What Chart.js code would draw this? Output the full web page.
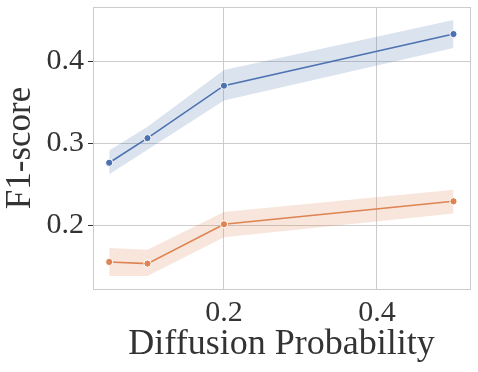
<!DOCTYPE html>
<html>
<head>
<meta charset="utf-8">
<script src="https://cdn.jsdelivr.net/npm/chart.js@4"></script>
<style>
  html, body { margin: 0; padding: 0; background: #fff; }
  #wrap { width: 478px; height: 372px; }
</style>
</head>
<body>
<div id="wrap"><canvas id="f1Chart" width="478" height="372"></canvas></div>
<script>
var probs = [0.05, 0.1, 0.2, 0.5];

var blueMean = [0.276, 0.306, 0.370, 0.433];
var blueUpper = [0.291, 0.320, 0.389, 0.450];
var blueLower = [0.262, 0.292, 0.352, 0.416];

var orangeMean = [0.155, 0.153, 0.201, 0.229];
var orangeUpper = [0.172, 0.170, 0.216, 0.243];
var orangeLower = [0.138, 0.138, 0.185, 0.214];

var xTicks = [0.2, 0.4];
var yTicks = [0.2, 0.3, 0.4];

function pts(values) {
  return values.map(function (v, i) {
    return { x: probs[i], y: v };
  });
}

var font = "'Liberation Serif', 'DejaVu Serif', serif";

function band(values, color, fill) {
  return {
    data: pts(values),
    borderWidth: 0,
    pointRadius: 0,
    backgroundColor: color,
    fill: fill,
    order: 2,
  };
}

function line(values, color) {
  return {
    data: pts(values),
    borderColor: color,
    borderWidth: 1.6,
    pointRadius: 3.6,
    pointBackgroundColor: color,
    pointBorderColor: "#ffffff",
    pointBorderWidth: 1,
    fill: false,
    order: 1,
  };
}

// full frame around the plot, like the seaborn style
var frame = {
  id: "frame",
  afterDraw: function (chart) {
    var a = chart.chartArea;
    var c = chart.ctx;
    c.save();
    c.strokeStyle = "#cccccc";
    c.lineWidth = 1;
    c.strokeRect(a.left + 0.5, a.top + 0.5, a.right - a.left, a.bottom - a.top);
    c.restore();
  },
};

var ctx = document.getElementById("f1Chart").getContext("2d");
new Chart(ctx, {
  type: "line",
  data: {
    datasets: [
      band(blueUpper, "rgba(76, 114, 176, 0.2)", "+1"),
      band(blueLower, "rgba(76, 114, 176, 0.2)", false),
      band(orangeUpper, "rgba(221, 132, 82, 0.2)", "+1"),
      band(orangeLower, "rgba(221, 132, 82, 0.2)", false),
      line(blueMean, "#4c72b0"),
      line(orangeMean, "#dd8452"),
    ],
  },
  plugins: [frame],
  options: {
    responsive: false,
    animation: false,
    layout: { padding: { top: 7, right: 8, left: 0, bottom: 0 } },
    plugins: { legend: { display: false }, tooltip: { enabled: false } },
    scales: {
      x: {
        type: "linear",
        min: 0.0288,
        max: 0.5216,
        afterBuildTicks: function (axis) {
          axis.ticks = xTicks.map(function (v) { return { value: v }; });
        },
        afterFit: function (axis) {
          axis.height = 83;
          axis.paddingLeft = 0;
          axis.paddingRight = 0;
        },
        ticks: {
          color: "#333333",
          font: { family: font, size: 30 },
          padding: 6,
          maxRotation: 0,
          callback: function (v) { return v.toFixed(1); },
        },
        grid: { color: "#cccccc", lineWidth: 1, drawTicks: false },
        border: { color: "#cccccc", width: 1 },
        title: {
          display: true,
          text: "Diffusion Probability",
          color: "#333333",
          font: { family: font, size: 36 },
          padding: { top: 0, bottom: 6 },
        },
      },
      y: {
        min: 0.122,
        max: 0.466,
        afterBuildTicks: function (axis) {
          axis.ticks = yTicks.map(function (v) { return { value: v }; });
        },
        afterFit: function (axis) {
          axis.width = 93;
          axis.paddingTop = 0;
          axis.paddingBottom = 0;
        },
        ticks: {
          color: "#333333",
          font: { family: font, size: 30 },
          padding: 4,
          callback: function (v) { return v.toFixed(1); },
        },
        grid: {
          color: "#cccccc",
          lineWidth: 1,
          tickLength: 5,
          tickColor: "#333333",
        },
        border: { color: "#cccccc", width: 1 },
        title: {
          display: true,
          text: "F1-score",
          color: "#333333",
          font: { family: font, size: 35 },
          padding: { top: 0, bottom: 0 },
        },
      },
    },
  },
});
</script>
</body>
</html>
